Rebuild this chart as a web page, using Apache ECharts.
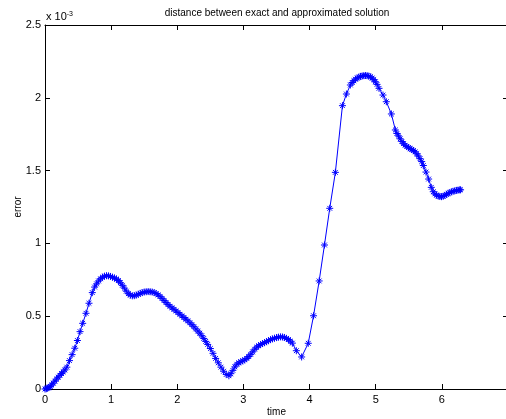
<!DOCTYPE html>
<html>
<head>
<meta charset="utf-8">
<script src="https://cdn.jsdelivr.net/npm/echarts@6/dist/echarts.min.js"></script>
<style>
html,body{margin:0;padding:0;background:#fff;}
#chart{width:506px;height:419px;}
</style>
</head>
<body>
<div id="chart"></div>
<script>
// time samples (adaptive solver steps)
var time = [
  0, 0.02, 0.04, 0.06, 0.08, 0.10, 0.125, 0.15, 0.175, 0.20, 0.225, 0.25, 0.275, 0.30, 0.33,
  0.37, 0.41, 0.45, 0.49, 0.53, 0.57, 0.62, 0.665, 0.715, 0.75,
  0.78, 0.81, 0.84, 0.87, 0.90, 0.93, 0.96, 0.99, 1.02, 1.05, 1.08, 1.11, 1.14, 1.17, 1.20,
  1.23, 1.26, 1.29, 1.32, 1.35, 1.38, 1.41, 1.44, 1.47, 1.50, 1.53, 1.56, 1.59, 1.62, 1.65,
  1.68, 1.71, 1.74, 1.77, 1.80, 1.83, 1.86, 1.89, 1.92, 1.95, 1.98, 2.01, 2.04, 2.07, 2.10,
  2.13, 2.16, 2.19, 2.22, 2.25, 2.28, 2.31, 2.34, 2.37, 2.40, 2.43, 2.46,
  2.50, 2.54, 2.58, 2.62, 2.66, 2.70, 2.74, 2.78,
  2.81, 2.84, 2.87, 2.90, 2.93, 2.96, 2.99, 3.02, 3.05, 3.08, 3.11, 3.14, 3.17, 3.20, 3.23,
  3.26, 3.29, 3.32, 3.35, 3.38, 3.41, 3.44, 3.47, 3.50, 3.53, 3.56, 3.59, 3.62, 3.65, 3.68,
  3.71, 3.74,
  3.80, 3.88, 3.98, 4.06, 4.145, 4.225, 4.305, 4.39, 4.497, 4.557, 4.617,
  4.645, 4.67, 4.695, 4.72, 4.745, 4.77, 4.795, 4.82, 4.845, 4.87, 4.895, 4.92, 4.945, 4.97, 4.995,
  5.02, 5.05, 5.11, 5.16, 5.237, 5.297,
  5.32, 5.345, 5.37, 5.395, 5.42, 5.445, 5.47, 5.495, 5.52, 5.545, 5.57, 5.595, 5.62, 5.645, 5.67, 5.695,
  5.72, 5.76, 5.80, 5.84,
  5.87, 5.895, 5.92, 5.945, 5.97, 5.995, 6.02, 6.045, 6.07, 6.095, 6.12, 6.145, 6.17, 6.195, 6.22, 6.245, 6.27, 6.283
];
// error values in units of 1e-3
var errorE3 = [
  0, 0.002, 0.006, 0.011, 0.018, 0.027, 0.040, 0.054, 0.068, 0.081, 0.094, 0.106, 0.118, 0.131, 0.150,
  0.195, 0.236, 0.280, 0.333, 0.394, 0.451, 0.520, 0.589, 0.662, 0.700,
  0.722, 0.742, 0.757, 0.768, 0.775, 0.778, 0.777, 0.773, 0.768, 0.762, 0.755, 0.745, 0.730, 0.712, 0.693,
  0.672, 0.655, 0.644, 0.640, 0.641, 0.645, 0.651, 0.657, 0.662, 0.666, 0.668, 0.669, 0.668, 0.666, 0.662,
  0.656, 0.646, 0.636, 0.622, 0.608, 0.594, 0.580, 0.568, 0.557, 0.547, 0.536, 0.525, 0.513, 0.502, 0.491,
  0.479, 0.468, 0.455, 0.442, 0.428, 0.413, 0.398, 0.383, 0.366, 0.347, 0.327, 0.306,
  0.278, 0.245, 0.210, 0.180, 0.150, 0.122, 0.100, 0.091,
  0.105, 0.128, 0.152, 0.170, 0.180, 0.187, 0.193, 0.200, 0.210, 0.223, 0.238, 0.255, 0.273, 0.287, 0.297,
  0.305, 0.312, 0.318, 0.325, 0.332, 0.339, 0.344, 0.349, 0.353, 0.356, 0.358, 0.357, 0.354, 0.348, 0.340,
  0.328, 0.315,
  0.263, 0.220, 0.314, 0.503, 0.742, 0.989, 1.241, 1.488, 1.946, 2.026, 2.088,
  2.105, 2.118, 2.128, 2.136, 2.142, 2.147, 2.150, 2.152, 2.153, 2.152, 2.149, 2.144, 2.136, 2.125, 2.110,
  2.092, 2.065, 2.019, 1.973, 1.889, 1.779,
  1.755, 1.738, 1.718, 1.700, 1.685, 1.674, 1.665, 1.658, 1.651, 1.645, 1.638, 1.629, 1.616, 1.600, 1.582, 1.562,
  1.535, 1.490, 1.442, 1.385,
  1.355, 1.340, 1.331, 1.325, 1.322, 1.321, 1.324, 1.330, 1.337, 1.343, 1.349, 1.354, 1.358, 1.361, 1.364, 1.366, 1.368, 1.368
];
var xTicks = ['0', '1', '2', '3', '4', '5', '6'];
var yTicks = ['0', '0.5', '1', '1.5', '2', '2.5'];

var FONT = '"Liberation Sans", Arial, Helvetica, sans-serif';
var pts = time.map(function (t, i) { return [t, errorE3[i]]; });
var asterisk = 'path://M0,5L10,5M5,0L5,10M1.6,1.6L8.4,8.4M8.4,1.6L1.6,8.4';

var chart = echarts.init(document.getElementById('chart'), null, {renderer: 'canvas'});
var axisLine = {show: true, onZero: false, lineStyle: {color: '#000', width: 1}};
var tick = {show: true, inside: true, length: 5, lineStyle: {color: '#000', width: 1}};
chart.setOption({
  animation: false,
  backgroundColor: '#fff',
  grid: {left: 45, right: -2, top: 25, bottom: 30, containLabel: false, outerBoundsMode: 'none'},
  graphic: [
    {type: 'text', x: 277, y: 13, style: {text: 'distance between exact and approximated solution', font: '10px ' + FONT, fill: '#000', textAlign: 'center', textVerticalAlign: 'middle'}},
    {type: 'text', x: 46, y: 17, style: {text: 'x 10{s|-3}', font: '11px ' + FONT, fill: '#000', textVerticalAlign: 'middle',
      rich: {s: {fontSize: 7, fontFamily: FONT, verticalAlign: 'top', padding: [0, 0, 6, 0]}}}}
  ],
  xAxis: [
    {type: 'value', min: 0, max: 7, interval: 1, position: 'bottom',
     name: 'time', nameLocation: 'middle', nameGap: 18, nameMoveOverlap: false,
     nameTextStyle: {fontFamily: FONT, fontSize: 10, color: '#000'},
     axisLine: axisLine, axisTick: tick, splitLine: {show: false},
     axisLabel: {margin: 5, fontFamily: FONT, fontSize: 11, color: '#000',
       formatter: function (v) { var i = Math.round(v); return i < xTicks.length ? xTicks[i] : ''; }}},
    {type: 'value', min: 0, max: 7, interval: 1, position: 'top',
     axisLine: axisLine, axisTick: tick, splitLine: {show: false}, axisLabel: {show: false}}
  ],
  yAxis: [
    {type: 'value', min: 0, max: 2.5, interval: 0.5, position: 'left',
     name: 'error', nameLocation: 'middle', nameGap: 22, nameRotate: 90, nameMoveOverlap: false,
     nameTextStyle: {fontFamily: FONT, fontSize: 10, color: '#000'},
     axisLine: axisLine, axisTick: tick, splitLine: {show: false},
     axisLabel: {margin: 4, fontFamily: FONT, fontSize: 11, color: '#000',
       formatter: function (v) { return yTicks[Math.round(v / 0.5)] || ''; }}},
    {type: 'value', min: 0, max: 2.5, interval: 0.5, position: 'right',
     axisLine: axisLine, axisTick: tick, splitLine: {show: false}, axisLabel: {show: false}}
  ],
  series: [{
    type: 'line', data: pts, xAxisIndex: 0, yAxisIndex: 0,
    symbol: asterisk, symbolSize: 7, showSymbol: true, showAllSymbol: true,
    lineStyle: {color: '#0000ff', width: 1},
    itemStyle: {color: '#0000ff', borderColor: '#0000ff', borderWidth: 1},
    clip: false
  }]
});
</script>
</body>
</html>
